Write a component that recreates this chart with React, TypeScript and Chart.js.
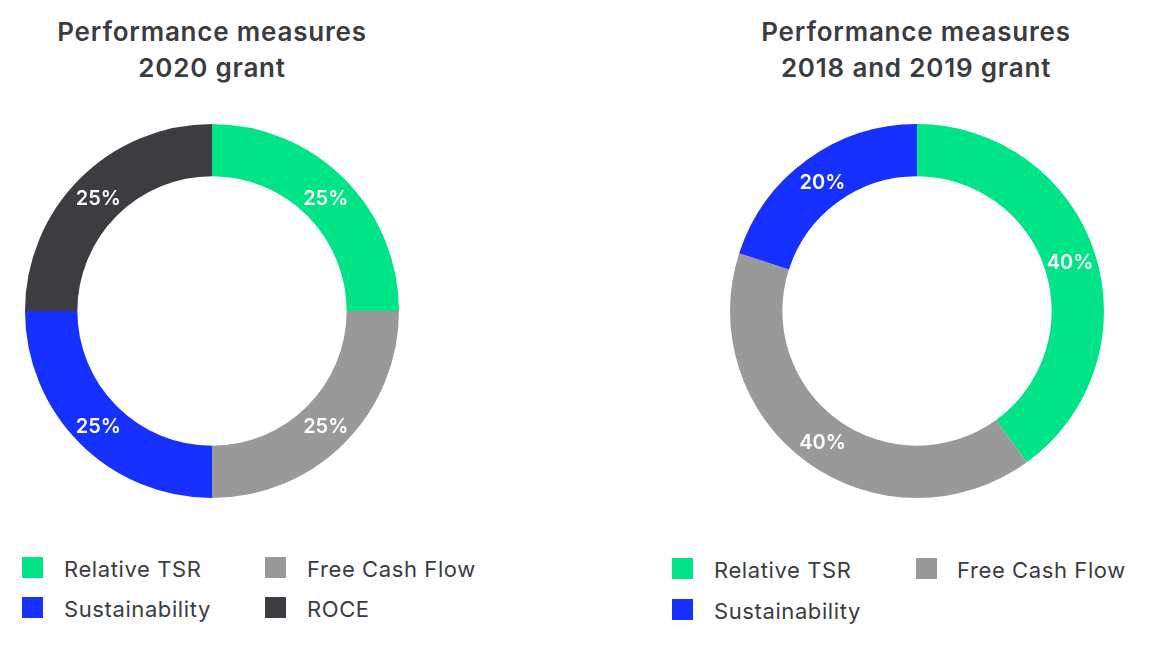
import React, { useEffect, useRef } from "react";
import { Chart, registerables } from "chart.js";

Chart.register(...registerables);

const leftLabels = ["Relative TSR", "Free Cash Flow", "Sustainability", "ROCE"];
const leftValues = [25, 25, 25, 25];
const leftColors = ["#00E386", "#999999", "#1630FF", "#3D3C41"];

const rightLabels = ["Relative TSR", "Free Cash Flow", "Sustainability"];
const rightValues = [40, 40, 20];
const rightColors = ["#00E386", "#999999", "#1630FF"];

const leftTitle = ["Performance measures", "2020 grant"];
const rightTitle = ["Performance measures", "2018 and 2019 grant"];

const FONT = "Inter, 'Noto Sans', sans-serif";
const TEXT = "#3b3b42";

const pctLabels = {
  id: "pctLabels",
  afterDatasetsDraw(chart: any) {
    const ctx = chart.ctx;
    const meta = chart.getDatasetMeta(0);
    const data = chart.data.datasets[0].data as number[];
    const total = data.reduce((a, b) => a + b, 0);
    ctx.save();
    ctx.fillStyle = "#ffffff";
    ctx.font = `600 20px ${FONT}`;
    ctx.textAlign = "center";
    ctx.textBaseline = "middle";
    meta.data.forEach((arc: any, i: number) => {
      const p = arc.getProps(["x", "y", "startAngle", "endAngle", "innerRadius", "outerRadius"], true);
      const a = (p.startAngle + p.endAngle) / 2;
      const r = (p.innerRadius + p.outerRadius) / 2;
      const pct = Math.round((data[i] / total) * 100);
      ctx.fillText(pct + "%", p.x + r * Math.cos(a), p.y + r * Math.sin(a) + 2);
    });
    ctx.restore();
  },
};

function Donut({ labels, values, colors, left, top }: any) {
  const ref = useRef<HTMLCanvasElement>(null);
  useEffect(() => {
    const chart = new Chart(ref.current!, {
      type: "doughnut",
      data: {
        labels,
        datasets: [{ data: values, backgroundColor: colors, borderWidth: 0 }],
      },
      options: {
        animation: false,
        responsive: false,
        cutout: "72%",
        layout: { padding: 0 },
        plugins: { legend: { display: false }, tooltip: { enabled: false } },
      },
      plugins: [pctLabels],
    });
    return () => chart.destroy();
  }, []);
  return (
    <canvas
      ref={ref}
      width={374}
      height={374}
      style={{ position: "absolute", left, top, width: 374, height: 374 }}
    />
  );
}

function Title({ lines, cx }: any) {
  return (
    <div
      style={{
        position: "absolute",
        left: cx - 250,
        top: 14,
        width: 500,
        textAlign: "center",
        fontFamily: FONT,
        fontWeight: 600,
        fontSize: 26,
        letterSpacing: "0.8px",
        lineHeight: "36px",
        color: TEXT,
      }}
    >
      {lines.map((l: string, i: number) => (
        <div key={i}>{l}</div>
      ))}
    </div>
  );
}

function LegendItem({ label, color, x, y, textX }: any) {
  return (
    <>
      <div
        style={{
          position: "absolute",
          left: x,
          top: y,
          width: 21,
          height: 21,
          background: color,
        }}
      />
      <div
        style={{
          position: "absolute",
          left: textX,
          top: y - 3,
          fontFamily: FONT,
          fontSize: 22,
          letterSpacing: "0.6px",
          lineHeight: "30px",
          color: TEXT,
          whiteSpace: "nowrap",
        }}
      >
        {label}
      </div>
    </>
  );
}

export default function App() {
  const leftPos = [
    [22, 557, 64],
    [265, 557, 307],
    [22, 597, 64],
    [265, 597, 307],
  ];
  const rightPos = [
    [672, 558, 714],
    [916, 558, 957],
    [672, 599, 714],
  ];
  return (
    <div
      style={{
        position: "absolute",
        left: 0,
        top: 0,
        width: 1154,
        height: 645,
        background: "#ffffff",
        overflow: "hidden",
      }}
    >
      <Title lines={leftTitle} cx={212} />
      <Title lines={rightTitle} cx={916} />
      <Donut labels={leftLabels} values={leftValues} colors={leftColors} left={25} top={124} />
      <Donut labels={rightLabels} values={rightValues} colors={rightColors} left={730} top={124} />
      {leftLabels.map((l, i) => (
        <LegendItem key={l} label={l} color={leftColors[i]} x={leftPos[i][0]} y={leftPos[i][1]} textX={leftPos[i][2]} />
      ))}
      {rightLabels.map((l, i) => (
        <LegendItem key={l} label={l} color={rightColors[i]} x={rightPos[i][0]} y={rightPos[i][1]} textX={rightPos[i][2]} />
      ))}
    </div>
  );
}
